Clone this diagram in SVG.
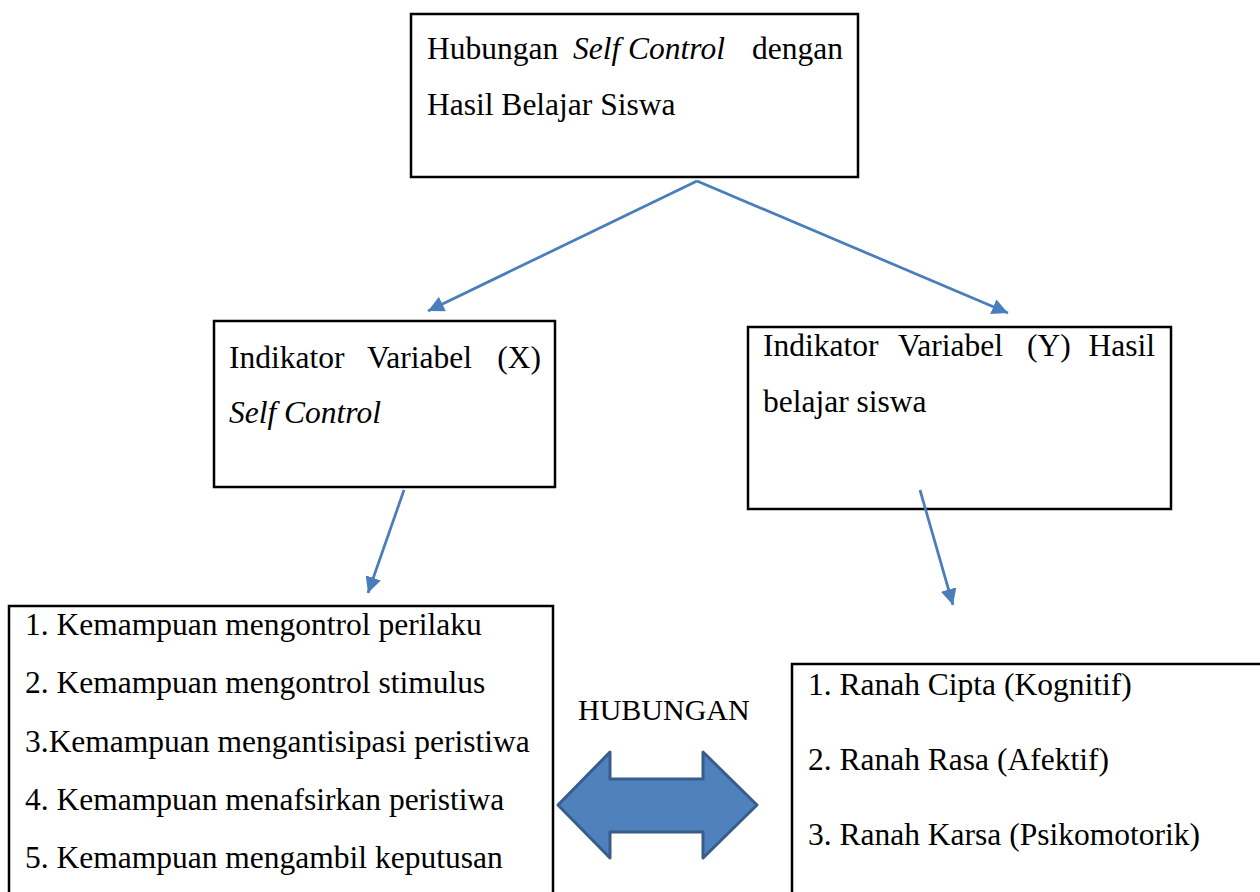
<svg xmlns="http://www.w3.org/2000/svg" width="1260" height="892" viewBox="0 0 1260 892">
<style>
.box{fill:#fff;stroke:#000;stroke-width:2.5}
.t{font-family:"Liberation Serif","Times New Roman",serif;font-size:31.5px;fill:#000}
.i{font-style:italic}
.con{stroke:#4A7EBB;stroke-width:2.75;fill:none}
</style>
<defs>
<marker id="ah" markerUnits="userSpaceOnUse" markerWidth="18" markerHeight="18" refX="16" refY="8" orient="auto">
<path d="M0,0 L16,8 L0,16 Z" fill="#4A7EBB"/>
</marker>
</defs>
<rect width="1260" height="892" fill="#fff"/>
<g id="n-top">
<rect class="box" x="411" y="14" width="447" height="163"/>
<text class="t" x="427" y="59">Hubungan</text>
<text class="t i" x="573" y="59">Self Control</text>
<text class="t" x="843" y="59" text-anchor="end">dengan</text>
<text class="t" x="427" y="115">Hasil Belajar Siswa</text>
</g>
<g id="n-x">
<rect class="box" x="214" y="321" width="341" height="166"/>
<text class="t" x="229" y="368">Indikator</text>
<text class="t" x="367" y="368">Variabel</text>
<text class="t" x="541" y="368" text-anchor="end">(X)</text>
<text class="t i" x="229" y="423">Self Control</text>
</g>
<g id="n-y">
<rect class="box" x="748" y="327" width="423" height="182"/>
<text class="t" x="763" y="356">Indikator</text>
<text class="t" x="898" y="356">Variabel</text>
<text class="t" x="1027" y="356">(Y)</text>
<text class="t" x="1155" y="356" text-anchor="end">Hasil</text>
<text class="t" x="763" y="412">belajar siswa</text>
</g>
<g id="n-xlist">
<rect class="box" x="9" y="606" width="544" height="300"/>
<text class="t" x="25" y="635">1. Kemampuan mengontrol perilaku</text>
<text class="t" x="25" y="693">2. Kemampuan mengontrol stimulus</text>
<text class="t" x="25" y="752">3.Kemampuan mengantisipasi peristiwa</text>
<text class="t" x="25" y="810">4. Kemampuan menafsirkan peristiwa</text>
<text class="t" x="25" y="868">5. Kemampuan mengambil keputusan</text>
</g>
<g id="n-ylist">
<rect class="box" x="792" y="664" width="480" height="250"/>
<text class="t" x="808" y="695">1. Ranah Cipta (Kognitif)</text>
<text class="t" x="808" y="770">2. Ranah Rasa (Afektif)</text>
<text class="t" x="808" y="845">3. Ranah Karsa (Psikomotorik)</text>
</g>
<g id="n-hubungan">
<text class="t" x="578" y="720" style="font-size:30px">HUBUNGAN</text>
<path d="M558,805 L610,752 L610,779 L703,779 L703,752 L757,805 L703,858 L703,832 L610,832 L610,858 Z" fill="#4F81BD" stroke="#385D8A" stroke-width="3" stroke-linejoin="round"/>
</g>
<g id="connectors">
<line class="con" x1="697" y1="181" x2="428" y2="311" marker-end="url(#ah)"/>
<line class="con" x1="697" y1="181" x2="1008" y2="313" marker-end="url(#ah)"/>
<line class="con" x1="404" y1="490" x2="368" y2="593" marker-end="url(#ah)"/>
<line class="con" x1="920" y1="490" x2="953" y2="605" marker-end="url(#ah)"/>
</g>
</svg>
